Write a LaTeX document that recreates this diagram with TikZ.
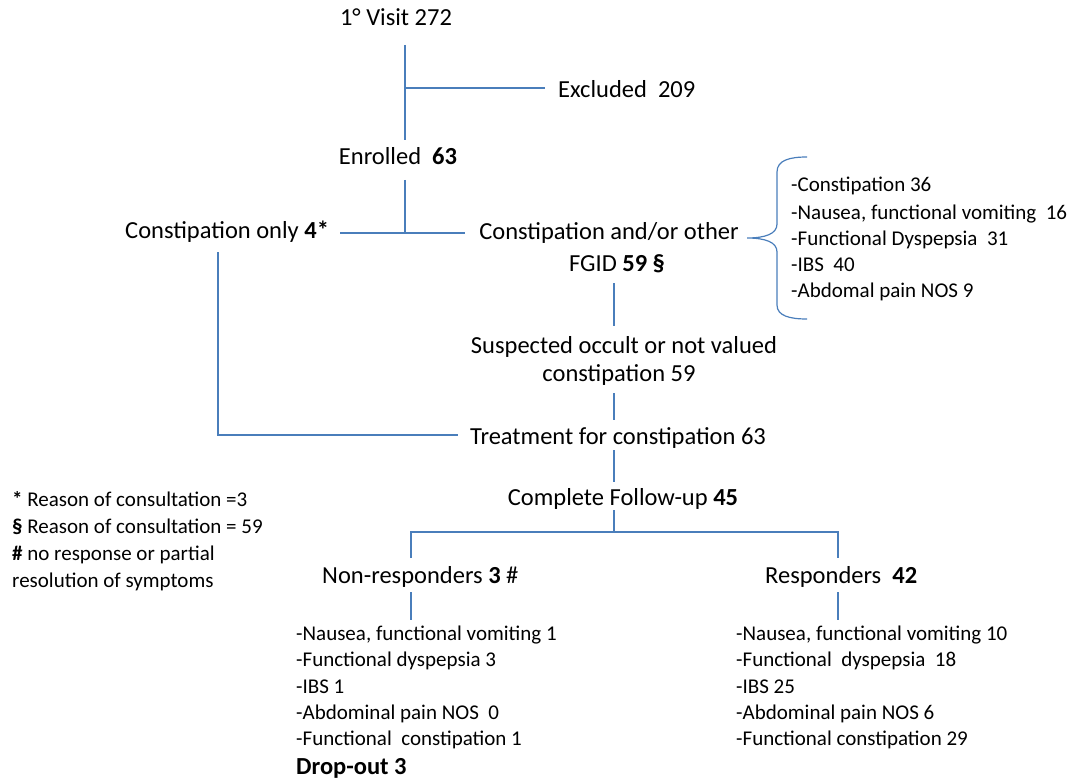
\documentclass[tikz,border=0pt]{standalone}
\usepackage{fontspec}
\setmainfont{Carlito}
\definecolor{ln}{HTML}{4A7EBB}
\begin{document}
\begin{tikzpicture}[x=1pt,y=-1pt,
  txt/.style={inner sep=0pt, font=\fontsize{21}{26}\selectfont},
  big/.style={inner sep=0pt, font=\fontsize{24.5}{30}\selectfont},
  lbl/.style={big, anchor=base},
  lblw/.style={big, anchor=base west},
  lst/.style={txt, anchor=base west},
  conn/.style={draw=ln, line width=1.2pt}]
\useasboundingbox (0,0) rectangle (1078,778);
% main nodes
\node[lbl] (visit) at (396,26) {1° Visit 272};
\node[lblw] (excl) at (558,98) {Excluded\ \ 209};
\node[lbl] (enr) at (398,165) {Enrolled\ \ \textbf{63}};
\node[lblw] (conly) at (125,238) {Constipation only \textbf{4*}};
\node[lbl] (fgidA) at (609,239) {Constipation and/or other};
\node[lbl] (fgidB) at (617,271) {FGID \textbf{59 §}};
\node[lbl] (suspA) at (624,353) {Suspected occult or not valued};
\node[lbl] (suspB) at (619,381) {constipation 59};
\node[lbl] (treat) at (618,444) {Treatment for constipation 63};
\node[lbl] (follow) at (623,505) {Complete Follow-up \textbf{45}};
\node[lblw] (nonr) at (322,583) {Non-responders \textbf{3} \#};
\node[lblw] (resp) at (765,583) {Responders\ \ \textbf{42}};
% FGID list
\node[lst] (g1) at (791,192) {-Constipation 36};
\node[lst] (g2) at (791,219) {-Nausea, functional vomiting\ \ 16};
\node[lst] (g3) at (791,245) {-Functional\ Dyspepsia\ \ 31};
\node[lst] (g4) at (791,271) {-IBS\ \ 40};
\node[lst] (g5) at (791,297) {-Abdomal pain NOS 9};
% non-responders list
\node[lst] (n1) at (296,640) {-Nausea, functional vomiting 1};
\node[lst] (n2) at (296,666) {-Functional dyspepsia 3};
\node[lst] (n3) at (296,693) {-IBS 1};
\node[lst] (n4) at (296,719) {-Abdominal pain NOS\ \ 0};
\node[lst] (n5) at (296,745) {-Functional\ \ constipation 1};
\node[lblw] (drop) at (296,774) {\textbf{Drop-out 3}};
% responders list
\node[lst] (r1) at (736,640) {-Nausea, functional vomiting 10};
\node[lst] (r2) at (736,666) {-Functional\ \ dyspepsia\ \ 18};
\node[lst] (r3) at (736,693) {-IBS 25};
\node[lst] (r4) at (736,719) {-Abdominal pain NOS\ 6};
\node[lst] (r5) at (736,745) {-Functional constipation 29};
% footnotes
\node[lst] (f1) at (12,506) {\textbf{*} Reason of consultation =3};
\node[lst] (f2) at (12,533) {\textbf{§} Reason of consultation = 59};
\node[lst] (f3) at (12,560) {\textbf{\#} no response or partial};
\node[lst] (f4) at (12,587) {resolution of symptoms};
% connector coordinates
\coordinate (a1) at (405,45);
\coordinate (a2) at (405,140);
\coordinate (a3) at (405,88);
\coordinate (a4) at (545,88);
\coordinate (b1) at (405,180);
\coordinate (b2) at (405,233);
\coordinate (b3) at (340,233);
\coordinate (b4) at (465,233);
\coordinate (c1) at (614,283);
\coordinate (c2) at (614,326);
\coordinate (d1) at (614,393);
\coordinate (d2) at (614,420);
\coordinate (e1) at (218,252);
\coordinate (e2) at (218,435);
\coordinate (e3) at (458,435);
\coordinate (h1) at (614,450);
\coordinate (h2) at (614,482);
\coordinate (k1) at (614,510);
\coordinate (k2) at (614,532);
\coordinate (kl) at (411,532);
\coordinate (kr) at (838,532);
\coordinate (kl2) at (411,558);
\coordinate (kr2) at (838,558);
\coordinate (m1) at (411,592);
\coordinate (m2) at (411,620);
\coordinate (m3) at (838,592);
\coordinate (m4) at (838,620);
% connectors
\draw[conn] (a1) -- (a2);
\draw[conn] (a3) -- (a4);
\draw[conn] (b1) -- (b2);
\draw[conn] (b3) -- (b4);
\draw[conn] (c1) -- (c2);
\draw[conn] (d1) -- (d2);
\draw[conn] (e1) -- (e2) -- (e3);
\draw[conn] (h1) -- (h2);
\draw[conn] (k1) -- (k2);
\draw[conn] (kl2) -- (kl) -- (kr) -- (kr2);
\draw[conn] (m1) -- (m2);
\draw[conn] (m3) -- (m4);
% brace
\coordinate (br1) at (807,157);
\coordinate (br2) at (807,319);
\coordinate (brt) at (747,238);
\draw[conn] (br1) .. controls (790,157) and (777,160) .. (777,172)
  -- (777,224) .. controls (777,234) and (765,238) .. (brt)
  .. controls (765,238) and (777,242) .. (777,252)
  -- (777,305) .. controls (777,316) and (790,319) .. (br2);
\end{tikzpicture}
\end{document}
